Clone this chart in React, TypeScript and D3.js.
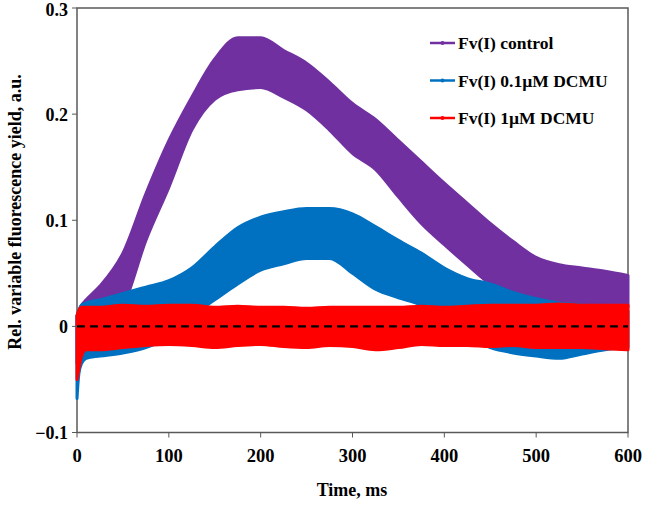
import React from "react";
import * as d3 from "d3";

// time samples (ms)
const time = [0, 2, 5, 10, 25, 50, 75, 100, 125, 150, 175, 200, 225, 250, 275, 300, 325, 350, 375, 400, 425, 450, 475, 500, 525, 550, 575, 600];

// Fv(I) control envelope (upper / lower edge of the noisy trace)
const controlUpper = [0.01, 0.015, 0.02, 0.025, 0.038, 0.069, 0.125, 0.175, 0.216, 0.252, 0.272, 0.272, 0.26, 0.248, 0.23, 0.21, 0.195, 0.175, 0.155, 0.135, 0.116, 0.097, 0.08, 0.065, 0.058, 0.055, 0.052, 0.048];
const controlLower = [-0.035, -0.03, -0.02, -0.015, -0.005, 0.018, 0.081, 0.131, 0.185, 0.214, 0.223, 0.225, 0.216, 0.204, 0.185, 0.163, 0.148, 0.122, 0.097, 0.077, 0.058, 0.04, 0.03, 0.025, 0.022, 0.021, 0.02, 0.018];

// Fv(I) 0.1µM DCMU envelope
const dcmu01Upper = [0.01, 0.015, 0.02, 0.022, 0.025, 0.031, 0.037, 0.043, 0.055, 0.075, 0.093, 0.103, 0.108, 0.111, 0.111, 0.106, 0.094, 0.081, 0.069, 0.055, 0.045, 0.04, 0.032, 0.026, 0.022, 0.02, 0.018, 0.015];
const dcmu01Lower = [-0.068, -0.045, -0.035, -0.03, -0.028, -0.025, -0.02, -0.01, 0.01, 0.025, 0.04, 0.053, 0.059, 0.064, 0.064, 0.05, 0.035, 0.027, 0.02, 0.005, -0.01, -0.02, -0.025, -0.028, -0.03, -0.026, -0.022, -0.02];

// Fv(I) 1µM DCMU envelope
const dcmu1Upper = [0.01, 0.015, 0.018, 0.018, 0.018, 0.02, 0.019, 0.02, 0.02, 0.018, 0.019, 0.018, 0.018, 0.017, 0.018, 0.018, 0.018, 0.018, 0.019, 0.018, 0.019, 0.02, 0.02, 0.02, 0.021, 0.02, 0.02, 0.02];
const dcmu1Lower = [-0.05, -0.04, -0.028, -0.022, -0.022, -0.02, -0.018, -0.017, -0.018, -0.02, -0.018, -0.017, -0.019, -0.02, -0.018, -0.019, -0.022, -0.02, -0.017, -0.018, -0.018, -0.019, -0.018, -0.02, -0.02, -0.02, -0.021, -0.022];

const seriesNames = ["Fv(I) control", "Fv(I) 0.1µM DCMU", "Fv(I) 1µM DCMU"];
const seriesColors = ["#7030A0", "#0070C0", "#FF0000"];

const xTicks = [0, 100, 200, 300, 400, 500, 600];
const yTicks = [-0.1, 0, 0.1, 0.2, 0.3];

const W = 645;
const H = 506;
const M = { left: 77, right: 17, top: 8, bottom: 73 };

export default function App() {
  const x = d3.scaleLinear().domain([0, 600]).range([M.left, W - M.right]);
  const y = d3.scaleLinear().domain([-0.1, 0.3]).range([H - M.bottom - 0.5, M.top]);

  const bands = [
    { upper: controlUpper, lower: controlLower },
    { upper: dcmu01Upper, lower: dcmu01Lower },
    { upper: dcmu1Upper, lower: dcmu1Lower },
  ];

  const area = (up: number[], lo: number[]) =>
    d3
      .area<number>()
      .x((_, i) => x(time[i]))
      .y0((_, i) => y(lo[i]))
      .y1((_, i) => y(up[i]))
      .curve(d3.curveMonotoneX)(time) as string;

  const font = "'Liberation Serif', 'Times New Roman', serif";
  const axisColor = "#595959";
  const x0 = x(0);
  const x1 = x(600);
  const yTop = y(0.3);
  const yBot = y(-0.1);

  return (
    <svg
      width={W}
      height={H}
      style={{ position: "absolute", left: 0, top: 0, background: "#fff" }}
      fontFamily={font}
    >
      <rect x={0} y={0} width={W} height={H} fill="#fff" />
      {/* plot frame */}
      <rect x={x0} y={yTop} width={x1 - x0} height={yBot - yTop} fill="none" stroke={axisColor} strokeWidth={1.5} />

      {/* series bands */}
      {bands.map((b, i) => (
        <path
          key={i}
          d={area(b.upper, b.lower)}
          fill={seriesColors[i]}
          stroke={seriesColors[i]}
          strokeWidth={3}
          strokeLinejoin="round"
        />
      ))}

      {/* zero dashed line */}
      <line x1={x0} x2={x1} y1={y(0)} y2={y(0)} stroke="#000" strokeWidth={2.2} strokeDasharray="8,5" />

      {/* y axis ticks */}
      {yTicks.map((t) => (
        <g key={t}>
          <line x1={x0 - 5} x2={x0} y1={y(t)} y2={y(t)} stroke={axisColor} strokeWidth={1} />
          <text x={x0 - 9} y={Math.max(y(t) + 6.5, 16)} textAnchor="end" fontSize={18} fontWeight="bold">
            {t === 0 ? "0" : d3.format(".1f")(t)}
          </text>
        </g>
      ))}
      {/* x axis ticks */}
      {xTicks.map((t) => (
        <g key={t}>
          <line x1={x(t)} x2={x(t)} y1={yBot} y2={yBot + 5} stroke={axisColor} strokeWidth={1} />
          <text x={x(t)} y={462} textAnchor="middle" fontSize={18.5} fontWeight="bold">
            {t}
          </text>
        </g>
      ))}

      {/* axis titles */}
      <text x={352} y={496} textAnchor="middle" fontSize={18} fontWeight="bold">
        Time, ms
      </text>
      <text
        transform={`translate(21, 212) rotate(-90)`}
        textAnchor="middle"
        fontSize={18}
        fontWeight="bold"
      >
        Rel. variable fluorescence yield, a.u.
      </text>

      {/* legend */}
      {seriesNames.map((n, i) => {
        const ly = 43 + i * 37.5;
        return (
          <g key={n}>
            <line x1={430} x2={455} y1={ly} y2={ly} stroke={seriesColors[i]} strokeWidth={2.5} />
            <circle cx={442.5} cy={ly} r={2} fill={seriesColors[i]} />
            <text x={458} y={ly} dy="0.35em" fontSize={17.5} fontWeight="bold">
              {n}
            </text>
          </g>
        );
      })}
    </svg>
  );
}
